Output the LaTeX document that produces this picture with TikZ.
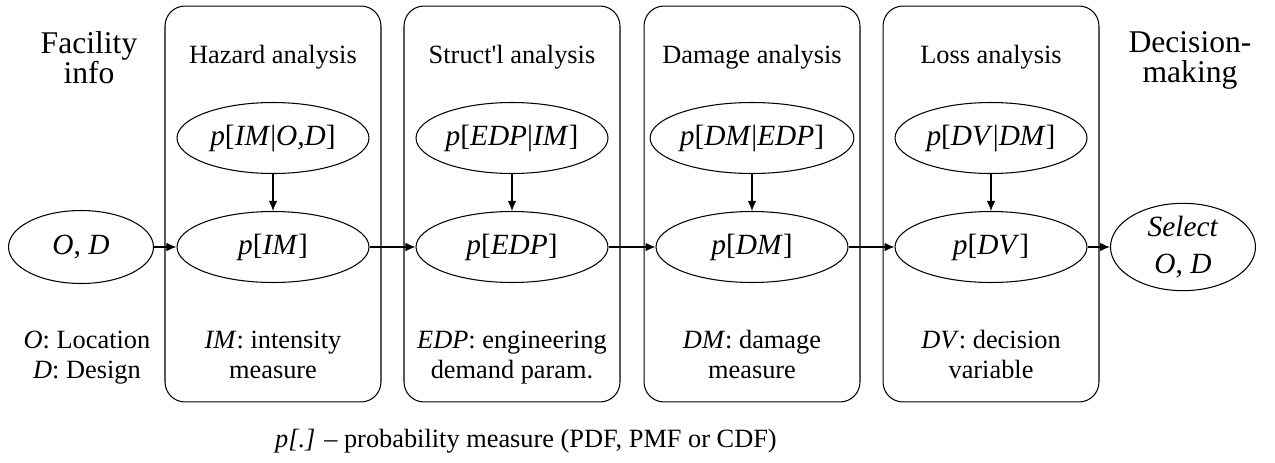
\documentclass[tikz,border=0pt]{standalone}
\usepackage{fontspec}
\setmainfont{Liberation Serif}
\usetikzlibrary{shapes.geometric,arrows.meta}

\tikzset{
	stagebox/.style={draw, rounded corners=0.4cm, minimum width=4.32cm, minimum height=7.92cm, line width=0.6pt},
	pnode/.style={draw, ellipse, inner sep=0pt, minimum width=3.84cm, minimum height=1.42cm, line width=0.6pt, font=\rmfamily\fontsize{16.7}{21}\selectfont, align=center},
	endnode/.style={pnode, minimum width=2.9cm, minimum height=1.46cm},
	stagetitle/.style={anchor=base, font=\rmfamily\fontsize{15}{17}\selectfont},
	sidetitle/.style={anchor=base, align=center, font=\rmfamily\fontsize{18}{17}\selectfont},
	stagenote/.style={anchor=base, align=center, font=\rmfamily\fontsize{15}{17}\selectfont},
	flow/.style={-{Latex[length=0.2cm,width=0.17cm]}, line width=0.6pt},
}

\begin{document}
\begin{tikzpicture}[x=0.02cm,y=-0.02cm]
	\useasboundingbox (0,0) rectangle (1275,463);
	%========
	%Stages
	%========
	\node[stagebox] (hazbox) at (273,204) {};
	\node[stagebox] (strbox) at (512,204) {};
	\node[stagebox] (dambox) at (752,204) {};
	\node[stagebox] (losbox) at (991,204) {};
	
	\node[stagetitle] (haztitle) at (273,63) {Hazard analysis};
	\node[stagetitle] (strtitle) at (512,63) {Struct\textquotesingle l analysis};
	\node[stagetitle] (damtitle) at (752,63) {Damage analysis};
	\node[stagetitle] (lostitle) at (991,63) {Loss analysis};
	
	\node[sidetitle] (facility) at (89,83) {Facility\\info};
	\node[sidetitle] (decision) at (1190,82) {Decision-\\making};
	
	%========
	%Distributions
	%========
	\node[pnode] (pimod) at (273,138) {\textit{p}[\textit{IM}|\textit{O,D}]};
	\node[pnode] (pedpim) at (512,138) {\textit{p}[\textit{EDP}|\textit{IM}]};
	\node[pnode] (pdmedp) at (752,138) {\textit{p}[\textit{DM}|\textit{EDP}]};
	\node[pnode] (pdvdm) at (991,138) {\textit{p}[\textit{DV}|\textit{DM}]};
	
	\node[endnode] (od) at (81,247) {\textit{O}, \textit{D}};
	\node[pnode] (pim) at (273,247) {\textit{p}[\textit{IM}]};
	\node[pnode] (pedp) at (512,247) {\textit{p}[\textit{EDP}]};
	\node[pnode] (pdm) at (752,247) {\textit{p}[\textit{DM}]};
	\node[pnode] (pdv) at (991,247) {\textit{p}[\textit{DV}]};
	\node[endnode] (select) at (1183,247) {\textit{Select}\\\textit{O}, \textit{D}};
	
	\draw[flow] (pimod) -- (pim);
	\draw[flow] (pedpim) -- (pedp);
	\draw[flow] (pdmedp) -- (pdm);
	\draw[flow] (pdvdm) -- (pdv);
	
	\draw[flow] (od) -- (pim);
	\draw[flow] (pim) -- (pedp);
	\draw[flow] (pedp) -- (pdm);
	\draw[flow] (pdm) -- (pdv);
	\draw[flow] (pdv) -- (select);
	
	%========
	%Notes
	%========
	\node[stagenote] (odnote) at (87,378) {\textit{O}: Location\\\textit{D}: Design};
	\node[stagenote] (imnote) at (273,378) {\textit{IM}: intensity\\measure};
	\node[stagenote] (edpnote) at (512,378) {\textit{EDP}: engineering\\demand param.};
	\node[stagenote] (dmnote) at (752,378) {\textit{DM}: damage\\measure};
	\node[stagenote] (dvnote) at (991,378) {\textit{DV}: decision\\variable};
	
	\node[stagetitle] (pnote) at (526,447) {\textit{p[.]} -- probability measure (PDF, PMF or CDF)};
\end{tikzpicture}
\end{document}
